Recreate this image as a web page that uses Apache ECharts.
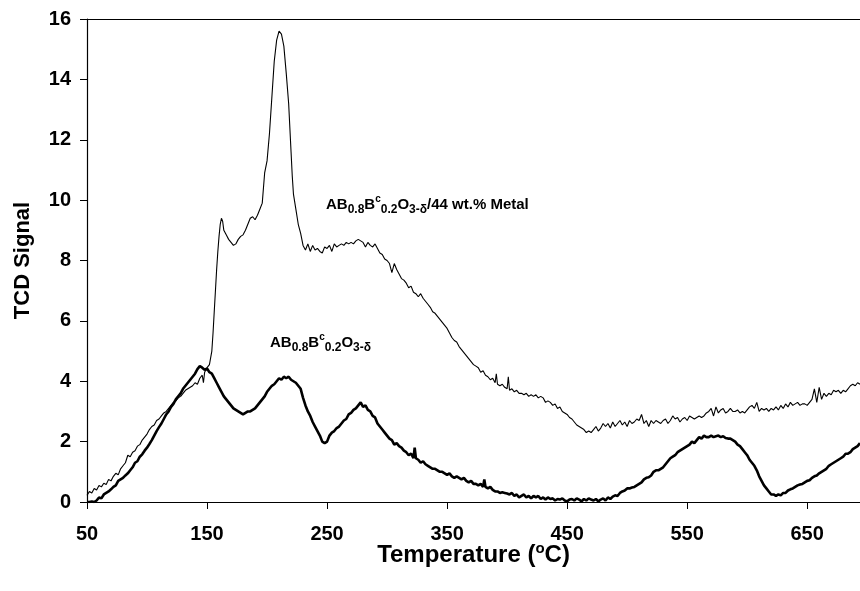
<!DOCTYPE html>
<html>
<head>
<meta charset="UTF-8">
<title>TCD Signal vs Temperature</title>
<script src="https://cdn.jsdelivr.net/npm/echarts@6/dist/echarts.min.js"></script>
<style>
body { margin: 0; padding: 0; background: #fff; }
#main { width: 860px; height: 591px; }
</style>
</head>
<body>
<div id="main"></div>
<script>
// temperature (oC) and signal of AB0.8Bc0.2O3-d / 44 wt.% Metal (thin line)
var metalTemp = [50,52,54,56,58,60,62,64,66,68,70,72,74,76,78,80,82,84,86,88,90,92,94,96,98,100,102,104,106,108,110,112,114,116,118,120,122,124,126,128,130,132,134,136,138,140,142,144,146,147,148,150,152,154,155,156,157,158,159,160,161,162,163,164,166,168,170,172,174,176,178,180,182,184,186,188,190,192,194,196,197,198,200,202,204,206,208,210,212,214,216,218,220,221,222,224,226,228,230,232,234,236,238,240,242,244,246,248,250,252,254,256,258,260,262,264,266,268,270,272,274,276,278,280,282,284,286,288,290,292,294,296,298,300,302,304,306,308,310,312,314,316,318,320,322,324,326,328,330,332,334,336,338,340,342,344,346,348,350,352,354,356,358,360,362,364,366,368,370,372,374,376,378,380,382,384,386,388,390,391,392,394,396,398,400,401,402,404,406,408,410,412,414,416,418,420,422,424,426,428,430,432,434,436,438,440,442,444,446,448,450,452,454,456,458,460,462,464,466,468,470,472,474,476,478,480,482,484,486,488,490,492,494,496,498,500,502,504,506,508,510,512,514,516,518,520,522,524,526,528,530,532,534,536,538,540,542,544,546,548,550,552,554,556,558,560,562,564,566,568,570,572,574,576,578,580,582,584,586,588,590,592,594,596,598,600,602,604,606,608,610,612,614,616,618,620,622,624,626,628,630,632,634,636,638,640,642,644,646,648,650,652,654,656,658,660,662,664,666,668,670,672,674,676,678,680,682,684,686,688,690,692,694];
var metalSignal = [0.22,0.35,0.3,0.45,0.4,0.55,0.5,0.62,0.58,0.75,0.7,0.85,0.95,0.9,1.1,1.2,1.3,1.55,1.5,1.65,1.7,1.85,1.9,2.05,2.15,2.25,2.4,2.5,2.55,2.7,2.75,2.85,2.95,3.0,3.1,3.2,3.3,3.35,3.45,3.5,3.6,3.7,3.75,3.8,3.85,3.95,3.9,4.1,4.2,3.95,4.3,4.45,4.55,5.0,5.6,6.3,7.0,7.7,8.3,8.8,9.2,9.4,9.3,9.0,8.85,8.7,8.6,8.5,8.55,8.7,8.8,8.85,9.0,9.2,9.4,9.45,9.35,9.5,9.7,9.9,10.4,10.9,11.3,12.2,13.4,14.6,15.3,15.6,15.5,15.1,14.2,13.2,11.6,10.8,10.2,9.7,9.2,8.9,8.5,8.35,8.55,8.3,8.5,8.35,8.4,8.3,8.25,8.45,8.4,8.5,8.3,8.55,8.45,8.5,8.55,8.5,8.6,8.55,8.6,8.55,8.65,8.7,8.65,8.6,8.45,8.6,8.5,8.45,8.55,8.4,8.25,8.2,8.05,8.0,7.9,7.6,7.9,7.7,7.55,7.4,7.35,7.25,7.1,7.15,6.95,6.9,6.8,6.9,6.75,6.65,6.55,6.45,6.3,6.25,6.15,6.05,5.95,5.85,5.75,5.6,5.45,5.35,5.3,5.15,5.05,4.95,4.85,4.75,4.65,4.55,4.5,4.45,4.3,4.35,4.2,4.15,4.05,4.1,3.95,4.25,3.9,3.85,3.9,3.8,3.75,4.15,3.7,3.75,3.65,3.7,3.6,3.6,3.55,3.6,3.5,3.55,3.5,3.55,3.45,3.5,3.45,3.3,3.35,3.3,3.2,3.25,3.1,3.15,3.0,2.95,2.9,2.8,2.75,2.65,2.55,2.5,2.45,2.4,2.3,2.35,2.3,2.4,2.5,2.35,2.45,2.6,2.5,2.6,2.45,2.65,2.5,2.6,2.7,2.55,2.65,2.5,2.7,2.6,2.65,2.75,2.7,2.9,2.6,2.7,2.5,2.7,2.6,2.7,2.65,2.6,2.7,2.75,2.6,2.7,2.85,2.75,2.8,2.65,2.75,2.8,2.7,2.85,2.8,2.75,2.8,2.85,2.8,2.85,2.95,3.0,3.1,2.85,3.15,2.95,3.05,3.1,2.95,3.0,3.1,3.0,3.0,3.05,2.95,3.0,2.95,3.05,3.15,3.2,3.1,3.3,3.0,3.1,3.05,3.1,3.0,3.1,3.05,3.15,3.05,3.2,3.1,3.25,3.15,3.3,3.2,3.25,3.3,3.2,3.25,3.25,3.2,3.3,3.4,3.75,3.3,3.8,3.4,3.6,3.5,3.6,3.55,3.7,3.65,3.7,3.6,3.7,3.65,3.75,3.85,3.9,3.85,3.95,3.9];

// temperature (oC) and signal of AB0.8Bc0.2O3-d (thick line)
var bareTemp = [50,52,54,56,58,60,62,64,66,68,70,72,74,76,78,80,82,84,86,88,90,92,94,96,98,100,102,104,106,108,110,112,114,116,118,120,122,124,126,128,130,132,134,136,138,140,142,144,146,148,150,152,154,156,158,160,162,164,166,168,170,172,174,176,178,180,182,184,186,188,190,192,194,196,198,200,202,204,206,208,210,212,214,216,218,220,222,224,226,228,230,232,234,236,238,240,242,244,246,248,250,252,254,256,258,260,262,264,266,268,270,272,274,276,278,279,280,282,284,286,288,290,292,294,296,298,300,302,304,306,308,310,312,314,316,318,320,322,323,324,326,328,330,332,334,336,338,340,342,344,346,348,350,352,354,356,358,360,362,364,366,368,370,372,374,376,378,380,381,382,384,386,388,390,392,394,396,398,400,402,404,406,408,410,412,414,416,418,420,422,424,426,428,430,432,434,436,438,440,442,444,446,448,450,452,454,456,458,460,462,464,466,468,470,472,474,476,478,480,482,484,486,488,490,492,494,496,498,500,502,504,506,508,510,512,514,516,518,520,522,524,526,528,530,532,534,536,538,540,542,544,546,548,550,552,554,556,558,560,562,564,566,568,570,572,574,576,578,580,582,584,586,588,590,592,594,596,598,600,602,604,606,608,610,612,614,616,618,620,622,624,626,628,630,632,634,636,638,640,642,644,646,648,650,652,654,656,658,660,662,664,666,668,670,672,674,676,678,680,682,684,686,688,690,692,694];
var bareSignal = [0.0,0.0,0.02,0.0,0.05,0.15,0.12,0.25,0.3,0.35,0.42,0.5,0.55,0.7,0.75,0.8,0.88,0.95,1.05,1.15,1.3,1.35,1.5,1.58,1.7,1.8,1.92,2.05,2.2,2.35,2.48,2.6,2.75,2.9,3.0,3.15,3.25,3.4,3.5,3.6,3.75,3.85,3.95,4.05,4.15,4.25,4.4,4.5,4.45,4.38,4.42,4.3,4.25,4.1,3.95,3.8,3.65,3.5,3.4,3.3,3.2,3.1,3.05,3.0,2.95,2.9,2.95,3.0,3.0,3.05,3.1,3.2,3.3,3.4,3.5,3.65,3.75,3.85,3.9,4.0,4.1,4.05,4.15,4.1,4.15,4.05,4.0,3.95,3.85,3.75,3.45,3.2,3.0,2.85,2.65,2.5,2.35,2.2,2.0,1.95,2.0,2.2,2.3,2.35,2.45,2.5,2.6,2.7,2.75,2.9,2.95,3.05,3.1,3.2,3.3,3.35,3.15,3.2,3.05,3.0,2.85,2.8,2.6,2.5,2.4,2.3,2.2,2.1,2.05,1.9,1.95,1.85,1.8,1.7,1.65,1.55,1.6,1.45,1.8,1.45,1.4,1.3,1.35,1.25,1.2,1.15,1.1,1.1,1.05,1.0,1.0,0.95,0.9,0.95,0.85,0.8,0.85,0.8,0.75,0.8,0.7,0.65,0.7,0.6,0.6,0.55,0.6,0.5,0.75,0.5,0.45,0.5,0.4,0.35,0.35,0.3,0.32,0.3,0.28,0.25,0.3,0.2,0.25,0.15,0.2,0.25,0.15,0.2,0.12,0.2,0.15,0.2,0.1,0.15,0.08,0.15,0.1,0.12,0.05,0.1,0.08,0.12,0.05,0.02,0.08,0.1,0.05,0.12,0.08,0.02,0.1,0.05,0.12,0.08,0.05,0.1,0.02,0.08,0.12,0.05,0.15,0.1,0.18,0.22,0.2,0.3,0.35,0.38,0.45,0.45,0.48,0.5,0.55,0.6,0.65,0.75,0.8,0.82,0.88,1.0,1.05,1.05,1.1,1.15,1.25,1.35,1.45,1.5,1.55,1.65,1.7,1.75,1.8,1.85,1.9,2.0,1.95,2.05,2.15,2.1,2.2,2.15,2.15,2.2,2.15,2.18,2.2,2.15,2.18,2.12,2.1,2.1,2.05,2.0,1.9,1.85,1.75,1.65,1.55,1.4,1.3,1.2,1.05,0.85,0.7,0.55,0.45,0.35,0.25,0.25,0.2,0.25,0.22,0.3,0.3,0.38,0.42,0.45,0.5,0.55,0.58,0.6,0.65,0.7,0.72,0.8,0.85,0.88,0.95,1.0,1.05,1.1,1.2,1.25,1.3,1.35,1.4,1.45,1.5,1.6,1.6,1.65,1.75,1.8,1.85,1.95];

var xTicks = [50, 150, 250, 350, 450, 550, 650];
var xMin = 50, xMax = 694;
var yMin = 0, yMax = 16, yStep = 2;

function zip(xs, ys) {
    var out = [];
    for (var i = 0; i < xs.length; i++) out.push([xs[i], ys[i]]);
    return out;
}

var FONT = '"Liberation Sans", Arial, sans-serif';
var chemRich = {
    m: { fontSize: 15, fontWeight: 'bold', fontFamily: FONT, color: '#000', lineHeight: 22 },
    sub: { fontSize: 12, fontWeight: 'bold', fontFamily: FONT, color: '#000', lineHeight: 12, verticalAlign: 'bottom' },
    sup: { fontSize: 10, fontWeight: 'bold', fontFamily: FONT, color: '#000', lineHeight: 10, verticalAlign: 'top' }
};
var chemFormula = '{m|AB}{sub|0.8}{m|B}{sup|c}{sub|0.2}{m|O}{sub|3-δ}';

var myChart = echarts.init(document.getElementById('main'));
var option = {
    animation: false,
    backgroundColor: '#fff',
    grid: { left: 87, right: 0, top: 19, bottom: 89, outerBoundsMode: 'none', containLabel: false },
    xAxis: [{
        type: 'value',
        min: xMin,
        max: xMax,
        name: '{t|Temperature (}{s|o}{t|C)}',
        nameLocation: 'middle',
        nameGap: 39,
        nameMoveOverlap: false,
        nameTextStyle: {
            rich: {
                t: { fontSize: 24, fontWeight: 'bold', fontFamily: FONT, color: '#000', lineHeight: 28 },
                s: { fontSize: 15, fontWeight: 'bold', fontFamily: FONT, color: '#000', lineHeight: 14, verticalAlign: 'top' }
            }
        },
        axisLine: { show: true, onZero: false, lineStyle: { color: '#000', width: 1.2 } },
        axisTick: { show: true, length: 7, customValues: xTicks, lineStyle: { color: '#000' } },
        axisLabel: { customValues: xTicks, margin: 22, fontSize: 20, fontWeight: 'bold', fontFamily: FONT, color: '#000' },
        splitLine: { show: false }
    }, {
        type: 'value',
        position: 'top',
        min: xMin,
        max: xMax,
        axisLine: { show: true, onZero: false, lineStyle: { color: '#000', width: 1.2 } },
        axisTick: { show: false },
        axisLabel: { show: false },
        splitLine: { show: false }
    }],
    yAxis: {
        type: 'value',
        min: yMin,
        max: yMax,
        interval: yStep,
        name: 'TCD Signal',
        nameLocation: 'middle',
        nameGap: 53,
        nameMoveOverlap: false,
        nameTextStyle: { fontSize: 22, fontWeight: 'bold', fontFamily: FONT, color: '#000' },
        axisLine: { show: true, onZero: false, lineStyle: { color: '#000', width: 1.2 } },
        axisTick: { show: true, length: 7, lineStyle: { color: '#000' } },
        axisLabel: { margin: 16, fontSize: 20, fontWeight: 'bold', fontFamily: FONT, color: '#000' },
        splitLine: { show: false }
    },
    graphic: [{
        type: 'text',
        left: 326,
        top: 194,
        style: { text: chemFormula + '{m|/44 wt.% Metal}', rich: chemRich }
    }, {
        type: 'text',
        left: 270,
        top: 332,
        style: { text: chemFormula, rich: chemRich }
    }],
    series: [{
        name: 'Metal',
        type: 'line',
        data: zip(metalTemp, metalSignal),
        showSymbol: false,
        lineStyle: { color: '#000', width: 1.1 },
        z: 3
    }, {
        name: 'Bare',
        type: 'line',
        data: zip(bareTemp, bareSignal),
        showSymbol: false,
        lineStyle: { color: '#000', width: 2.6 },
        z: 2
    }]
};
myChart.setOption(option);
</script>
</body>
</html>
